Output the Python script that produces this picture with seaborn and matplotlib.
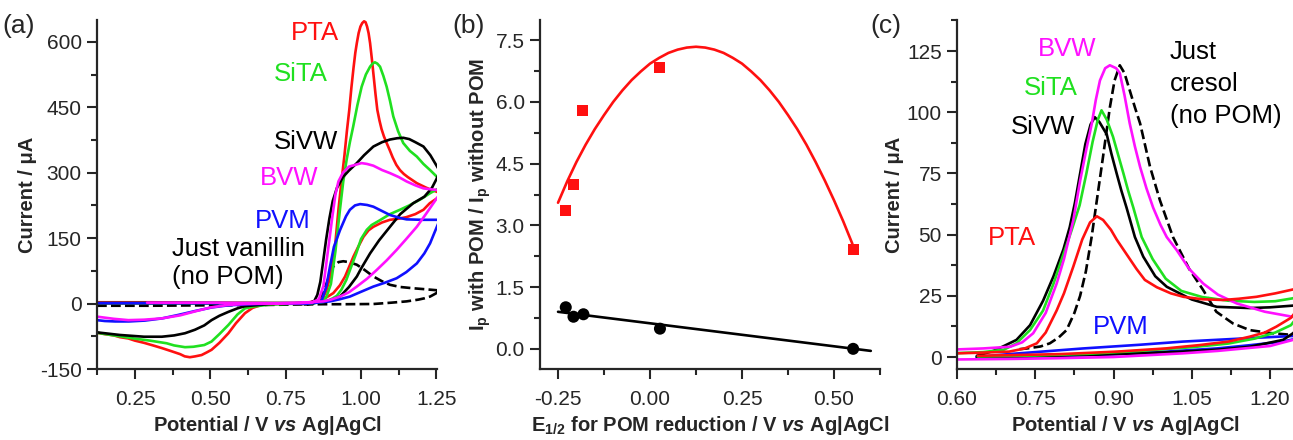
import matplotlib
matplotlib.use("Agg")
import matplotlib.pyplot as plt
from matplotlib.ticker import MultipleLocator, AutoMinorLocator, FormatStrFormatter
import seaborn as sns

# ---------------- data: panel (a) vanillin CVs ----------------
a_pta_v = [0.124,0.20,0.30,0.40,0.50,0.60,0.70,0.80,0.83,0.85,0.865,0.875,0.885,0.895,0.905,0.915,0.925,0.935,
           0.945,0.953,0.961,0.968,0.975,0.981,0.986,0.992,0.998,1.004,1.010,1.015,1.020,1.025,1.030,1.036,1.042,
           1.048,1.054,1.061,1.068,1.076,1.085,1.095,1.105,1.117,1.129,1.142,1.155,1.170,1.185,1.200,1.215,1.232,1.260,
           1.260,1.228,1.207,1.180,1.150,1.120,1.096,1.070,1.041,1.025,1.008,0.992,0.975,0.961,0.947,0.930,0.908,0.885,
           0.864,0.845,0.830,0.80,0.75,0.70,0.67,0.64,0.615,0.585,0.56,0.53,0.504,0.488,0.471,0.45,0.432,0.415,0.40,
           0.37,0.339,0.31,0.28,0.25,0.228,0.20,0.18,0.15,0.124]
a_pta_i = [3,3,3,2.5,2,1.5,1,1,1.5,3,8,15,30,55,90,140,215,280,
           340,395,444,495,540,575,597,620,635,643,647,645,635,620,597,560,520,
           480,444,420,400,383,368,352,335,318,306,297,290,283,276,271,266,261,254,
           245,230,215,205,198,194,192,186,176,168,153,132,108,85,62,42,24,14,
           8,5,3,1,0,-1,-3,-10,-22,-45,-68,-90,-106,-112,-118,-121,-123,-121,-116,
           -109,-102,-96,-90,-85,-80,-77,-73,-70,-67]

a_sita_v = [0.124,0.30,0.50,0.70,0.80,0.85,0.87,0.885,0.90,0.915,0.93,0.941,0.952,0.963,0.974,0.988,1.002,1.016,
            1.030,1.038,1.046,1.054,1.063,1.074,1.085,1.096,1.107,1.123,1.140,1.162,1.185,1.207,1.229,1.26,
            1.26,1.229,1.20,1.160,1.129,1.096,1.060,1.035,1.019,1.000,0.984,0.966,0.951,0.935,0.920,0.906,0.885,
            0.860,0.80,0.75,0.70,0.643,0.615,0.59,0.56,0.53,0.504,0.48,0.444,0.416,0.38,0.355,0.30,0.245,0.18,0.124]
a_sita_i = [1,1,1,1,1,2,5,15,45,120,215,280,329,370,406,455,497,525,
            543,550,553,550,543,522,497,465,429,395,368,350,337,320,306,285,
            265,253,240,225,215,205,190,180,169,148,115,82,54,32,18,12,5,
            2,0,-1,-2,-7,-11,-25,-49,-70,-87,-95,-99,-100,-96,-91,-85,-80,-73,-67]

a_sivw_v = [0.124,0.30,0.50,0.70,0.80,0.83,0.845,0.855,0.865,0.875,0.884,0.895,0.906,0.92,0.94,0.96,0.986,1.01,
            1.041,1.07,1.096,1.12,1.14,1.16,1.18,1.207,1.23,1.26,
            1.26,1.25,1.235,1.21,1.173,1.13,1.096,1.06,1.03,1.00,0.986,0.96,0.93,0.90,0.875,0.80,0.70,0.615,0.59,
            0.56,0.53,0.504,0.48,0.449,0.416,0.38,0.339,0.28,0.20,0.124]
a_sivw_i = [1,1,1,1,1,2,6,20,50,100,146,195,235,265,290,305,322,340,
            360,370,376,379,380,377,370,360,340,305,
            300,285,265,245,230,205,176,145,115,80,62,38,16,8,4,1,-1,-6,-11,
            -19,-28,-38,-50,-60,-68,-73,-76,-76,-72,-66]

a_bvw_v = [0.29,0.50,0.70,0.80,0.84,0.86,0.875,0.89,0.905,0.915,0.925,0.94,0.96,0.986,1.002,1.02,1.041,
           1.07,1.096,1.125,1.151,1.18,1.207,1.23,1.26,
           1.26,1.24,1.215,1.185,1.15,1.118,1.085,1.052,1.02,0.986,0.96,0.93,0.90,0.875,0.80,0.70,0.67,0.615,
           0.56,0.50,0.449,0.40,0.339,0.28,0.228,0.18,0.124]
a_bvw_i = [2,2,1,1,3,10,40,120,200,250,280,300,314,319,322,320,316,
           306,299,290,280,271,264,262,260,
           250,230,205,176,148,123,99,77,57,39,26,16,9,5,2,0,0,-1,
           -3,-9,-18,-27,-34,-37,-38,-35,-30]

a_pvm_v = [0.124,0.30,0.50,0.70,0.80,0.85,0.87,0.885,0.897,0.91,0.93,0.95,0.963,0.98,0.997,1.02,1.041,1.07,
           1.096,1.13,1.151,1.20,1.26,
           1.26,1.245,1.229,1.21,1.185,1.15,1.118,1.08,1.041,1.00,0.963,0.93,0.897,0.85,0.80,0.70,0.615,0.56,
           0.504,0.45,0.394,0.34,0.283,0.23,0.184,0.15,0.124]
a_pvm_i = [1,1,1,0,0,2,8,40,85,130,168,200,215,225,228,226,222,212,
           203,196,193,192,192,
           190,165,138,115,92,72,58,48,39,27,16,10,5,2,0,0,-2,-4,
           -9,-17,-26,-34,-39,-41,-41,-40,-38]

a_van_v = [0.124,0.30,0.50,0.70,0.80,0.84,0.855,0.864,0.875,0.886,0.897,0.908,0.925,0.941,0.96,0.986,1.01,1.041,
           1.07,1.096,1.13,1.174,1.21,1.26,
           1.26,1.245,1.229,1.21,1.19,1.151,1.10,1.041,0.95,0.875,0.80]
a_van_i = [-5,-5,-4,-3,-2,0,3,8,25,47,68,85,95,97,95,89,78,62,
           51,43,38,35,33,30,
           28,22,16,12,9,5,2,-1,-1.5,-1.5,-2]

# ---------------- data: panel (b) ----------------
b_e12 = [-0.229, -0.208, -0.183, 0.027, 0.552]
b_ratio_red = [3.36, 4.00, 5.78, 6.83, 2.42]
b_e12_blk = [-0.229, -0.208, -0.181, 0.027, 0.552]
b_ratio_blk = [1.01, 0.78, 0.84, 0.49, 0.00]
b_fit_red_x = [-0.25,-0.225,-0.20,-0.175,-0.15,-0.125,-0.10,-0.075,-0.05,-0.025,0.00,0.025,0.05,0.075,0.10,0.125,
               0.15,0.175,0.20,0.225,0.25,0.275,0.30,0.325,0.35,0.375,0.40,0.425,0.45,0.475,0.50,0.525,0.55]
b_fit_red_y = [3.55,4.07,4.54,4.96,5.34,5.68,6.00,6.28,6.53,6.74,6.93,7.07,7.19,7.27,7.32,7.34,
               7.32,7.27,7.19,7.07,6.93,6.74,6.53,6.28,6.00,5.68,5.34,4.96,4.54,4.09,3.61,3.10,2.55]
b_fit_blk_x = [-0.25, 0.60]
b_fit_blk_y = [0.90, -0.05]

# ---------------- data: panel (c) cresol CVs ----------------
c_pta_v = [0.60,0.65,0.70,0.73,0.753,0.77,0.791,0.805,0.823,0.84,0.855,0.868,0.88,0.895,0.906,0.925,0.944,0.96,
           0.983,1.01,1.034,1.07,1.11,1.14,1.174,1.21,1.244,1.27,
           1.27,1.255,1.24,1.212,1.19,1.161,1.12,1.066,1.0,0.906,0.80,0.714,0.64]
c_pta_i = [1.5,1.8,2.2,3.5,5.6,10,19,26,37,48,55,57.5,56,52,48,42,36,31.5,
           28.5,26,24.6,23.6,23.3,23.8,24.6,26,27.6,29,
           25,20,16,12.4,10,8.3,6.3,4.9,3.5,2.2,1.2,0.8,0.5]

c_sita_v = [0.60,0.65,0.69,0.714,0.74,0.765,0.785,0.804,0.82,0.835,0.848,0.86,0.87,0.877,0.887,0.899,0.909,0.919,
            0.928,0.938,0.954,0.975,1.0,1.03,1.07,1.12,1.17,1.21,1.244,1.27,
            1.27,1.255,1.24,1.21,1.17,1.12,1.05,0.95,0.85,0.75,0.64]
c_sita_i = [1.6,2,3,5.6,11,19,30,42,52,62,75,88,97,100.8,97,90,82.5,75,
            68,61,49,40,32,27,24.5,23,22.5,22.8,24,26,
            22,17,13,10,7.5,5.5,4,2.5,1.3,0.6,0.2]

c_sivw_v = [0.638,0.67,0.69,0.714,0.74,0.765,0.785,0.804,0.816,0.826,0.836,0.846,0.856,0.864,0.873,0.887,0.896,
            0.906,0.915,0.925,0.941,0.957,0.98,1.002,1.05,1.098,1.161,1.2,1.244,1.27,
            1.27,1.255,1.244,1.225,1.161,1.1,1.033,0.95,0.842,0.74,0.638]
c_sivw_i = [0.5,2.5,4.5,7,13,23,33,44,53,63,75,87,95,98,96,91,83,
            75,68,61,49,41,33,28.7,23.5,20.5,20,20.3,21,23,
            18,12,9.7,7,4.2,3,2.2,1.5,0.8,0.3,0]

c_bvw_v = [0.60,0.65,0.702,0.725,0.746,0.77,0.791,0.805,0.823,0.836,0.848,0.858,0.866,0.874,0.884,0.893,0.905,
           0.912,0.921,0.931,0.941,0.951,0.963,0.976,0.99,1.002,1.021,1.045,1.072,1.10,1.136,1.19,1.244,1.27,
           1.27,1.244,1.2,1.1,1.033,0.9,0.791,0.7,0.6]
c_bvw_i = [3.1,3.5,4.2,6,9.7,18,30,40,56,72,85,95,105,113,118,119.2,118,
           116,107,95.5,86,77.6,69,61,54,49,43.7,36,30,25.5,21.9,18.5,16.4,16,
           12,7,4.5,2.5,1.5,0,-0.5,-0.8,-1]

c_pvm_v = [0.638,0.70,0.75,0.842,0.95,1.033,1.15,1.244,1.27,
           1.27,1.244,1.225,1.16,1.098,1.0,0.906,0.80,0.714,0.638]
c_pvm_i = [0,1.2,2,3.5,5,6.3,7.6,8.6,9,
           8.5,7.2,6.3,4.8,3.5,2.2,1.2,0.5,0.1,0]

c_cre_v = [0.72,0.734,0.76,0.778,0.795,0.81,0.825,0.836,0.847,0.858,0.868,0.880,0.893,0.902,0.912,0.921,0.931,
           0.941,0.951,0.960,0.970,0.989,1.014,1.045,1.072,1.097,1.129,1.161,1.2,1.244,1.27]
c_cre_i = [3.2,3.5,4.3,5.6,8,11,18,25,35,49,64,82,102,113,119.2,116,109,
           102,95.4,87,77.7,64,49,36,27.3,18.5,13.7,11,9.8,9,8.8]

# ---------------- style ----------------
RED, GREEN, BLACK, MAG, BLUE = "#ff1010", "#20e020", "#000000", "#ff10ff", "#1010ff"

sns.set_style("ticks")
plt.rcParams["font.family"] = ["Liberation Sans", "DejaVu Sans"]
plt.rcParams["mathtext.fontset"] = "custom"
plt.rcParams["mathtext.rm"] = "Liberation Sans:bold"
plt.rcParams["mathtext.it"] = "Liberation Sans:bold:italic"
plt.rcParams["mathtext.bf"] = "Liberation Sans:bold"
plt.rcParams["axes.unicode_minus"] = False

W, H = 1293, 440
fig = plt.figure(figsize=(W / 100, H / 100), dpi=100)

def add_ax(left, right, top=20, bottom=369):
    return fig.add_axes([left / W, 1 - bottom / H, (right - left) / W, (bottom - top) / H])

axa = add_ax(97, 437)
axb = add_ax(540, 880)
axc = add_ax(957, 1293)

LW = 1.9
TICK_FS = 15
LAB_FS = 14.5
ANN_FS = 18.5

def cv(ax, v, i, color, ls="-"):
    sns.lineplot(x=v, y=i, sort=False, estimator=None, color=color, lw=LW, ax=ax, linestyle=ls)

def style_axis(ax):
    sns.despine(ax=ax)
    for s in ("left", "bottom"):
        ax.spines[s].set_linewidth(1.6)
    ax.tick_params(axis="both", which="major", direction="out", length=7, width=1.5,
                   labelsize=TICK_FS, pad=4)
    ax.tick_params(axis="x", which="major", pad=8)
    ax.tick_params(axis="both", which="minor", direction="out", length=4, width=1.5)
    ax.xaxis.set_minor_locator(AutoMinorLocator(2))
    ax.yaxis.set_minor_locator(AutoMinorLocator(2))

# ---------- panel (a) ----------
cv(axa, a_van_v, a_van_i, BLACK, "--")
cv(axa, a_pta_v, a_pta_i, RED)
cv(axa, a_sita_v, a_sita_i, GREEN)
cv(axa, a_sivw_v, a_sivw_i, BLACK)
cv(axa, a_pvm_v, a_pvm_i, BLUE)
cv(axa, a_bvw_v, a_bvw_i, MAG)
axa.set_xlim(0.124, 1.252)
axa.set_ylim(-150, 650)
axa.xaxis.set_major_locator(MultipleLocator(0.25))
axa.yaxis.set_major_locator(MultipleLocator(150))
axa.xaxis.set_major_formatter(FormatStrFormatter("%.2f"))
style_axis(axa)
axa.set_xlabel(r"Potential / V $\mathit{vs}$ Ag|AgCl", fontsize=LAB_FS, fontweight="bold")
axa.set_ylabel("Current / μA", fontsize=LAB_FS, fontweight="bold", labelpad=2)
axa.text(0.847, 621, "PTA", color=RED, fontsize=ANN_FS, ha="center", va="center")
axa.text(0.801, 527, "SiTA", color=GREEN, fontsize=ANN_FS, ha="center", va="center")
axa.text(0.817, 371, "SiVW", color=BLACK, fontsize=ANN_FS, ha="center", va="center")
axa.text(0.761, 288, "BVW", color=MAG, fontsize=ANN_FS, ha="center", va="center")
axa.text(0.741, 189, "PVM", color=BLUE, fontsize=ANN_FS, ha="center", va="center")
axa.text(0.373, 125, "Just vanillin", color=BLACK, fontsize=ANN_FS, ha="left", va="center")
axa.text(0.373, 61, "(no POM)", color=BLACK, fontsize=ANN_FS, ha="left", va="center")

# ---------- panel (b) ----------
sns.lineplot(x=b_fit_red_x, y=b_fit_red_y, color=RED, lw=LW, sort=False, estimator=None, ax=axb)
sns.lineplot(x=b_fit_blk_x, y=b_fit_blk_y, color=BLACK, lw=LW, sort=False, estimator=None, ax=axb)
sns.scatterplot(x=b_e12, y=b_ratio_red, marker="s", s=62, color=RED, edgecolor="none", ax=axb, zorder=3)
sns.scatterplot(x=b_e12_blk, y=b_ratio_blk, marker="o", s=75, color=BLACK, edgecolor="none", ax=axb, zorder=3)
axb.set_xlim(-0.299, 0.625)
axb.set_ylim(-0.49, 7.99)
axb.xaxis.set_major_locator(MultipleLocator(0.25))
axb.yaxis.set_major_locator(MultipleLocator(1.5))
axb.xaxis.set_major_formatter(FormatStrFormatter("%.2f"))
axb.yaxis.set_major_formatter(FormatStrFormatter("%.1f"))
style_axis(axb)
axb.set_xlabel(r"E$_{\mathrm{1/2}}$ for POM reduction / V $\mathit{vs}$ Ag|AgCl", fontsize=LAB_FS, fontweight="bold")
axb.set_ylabel(r"I$_{\mathrm{p}}$ with POM / I$_{\mathrm{p}}$ without POM", fontsize=LAB_FS, fontweight="bold", labelpad=2)

# ---------- panel (c) ----------
cv(axc, c_cre_v, c_cre_i, BLACK, "--")
cv(axc, c_pvm_v, c_pvm_i, BLUE)
cv(axc, c_sivw_v, c_sivw_i, BLACK)
cv(axc, c_sita_v, c_sita_i, GREEN)
cv(axc, c_bvw_v, c_bvw_i, MAG)
cv(axc, c_pta_v, c_pta_i, RED)
axc.set_xlim(0.60, 1.244)
axc.set_ylim(-4.9, 137.7)
axc.xaxis.set_major_locator(MultipleLocator(0.15))
axc.yaxis.set_major_locator(MultipleLocator(25))
axc.xaxis.set_major_formatter(FormatStrFormatter("%.2f"))
style_axis(axc)
axc.set_xlabel(r"Potential / V $\mathit{vs}$ Ag|AgCl", fontsize=LAB_FS, fontweight="bold")
axc.set_ylabel("Current / μA", fontsize=LAB_FS, fontweight="bold", labelpad=2)
axc.text(0.811, 126, "BVW", color=MAG, fontsize=ANN_FS, ha="center", va="center")
axc.text(0.780, 110, "SiTA", color=GREEN, fontsize=ANN_FS, ha="center", va="center")
axc.text(0.765, 94, "SiVW", color=BLACK, fontsize=ANN_FS, ha="center", va="center")
axc.text(0.705, 48.6, "PTA", color=RED, fontsize=ANN_FS, ha="center", va="center")
axc.text(0.914, 12.2, "PVM", color=BLUE, fontsize=ANN_FS, ha="center", va="center")
axc.text(1.008, 124.5, "Just", color=BLACK, fontsize=ANN_FS, ha="left", va="center")
axc.text(1.008, 111.4, "cresol", color=BLACK, fontsize=ANN_FS, ha="left", va="center")
axc.text(1.008, 98.4, "(no POM)", color=BLACK, fontsize=ANN_FS, ha="left", va="center")

# panel letters
for xpx, lab in ((2, "(a)"), (452, "(b)"), (870, "(c)")):
    fig.text(xpx / W, 1 - 26 / H, lab, fontsize=19, ha="left", va="center")

fig.savefig("out.png", dpi=100)
